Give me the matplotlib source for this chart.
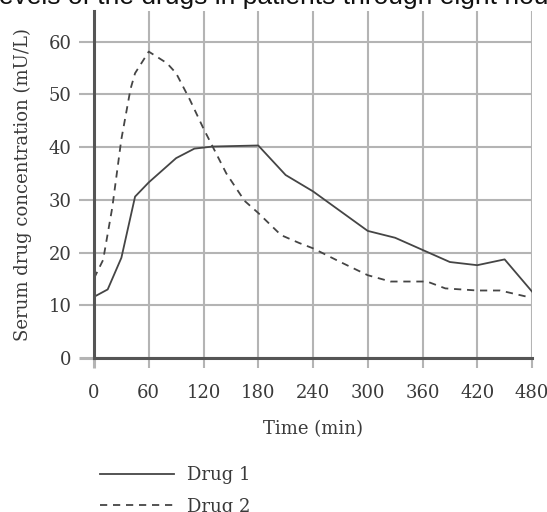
import matplotlib
matplotlib.use("Agg")
import matplotlib.pyplot as plt

# tid i minutter og serumkonsentrasjon (mU/L), lest av bildet
time_drug1 = [0, 15, 30, 45, 60, 90, 110, 130, 180, 210, 240, 300, 330, 390, 420, 450, 480]
conc_drug1 = [11.6, 13.0, 19.0, 30.6, 33.3, 37.9, 39.7, 40.1, 40.3, 34.7, 31.6, 24.1, 22.8, 18.2, 17.6, 18.7, 12.6]

time_drug2 = [0, 10, 20, 30, 40, 45, 60, 80, 90, 105, 120, 145, 165, 180, 205, 225, 240, 270, 300, 325, 365, 385, 420, 445, 475]
conc_drug2 = [15.1, 18.6, 28.5, 41.5, 51.0, 54.0, 58.1, 55.9, 54.0, 49.0, 43.5, 35.0, 29.8, 27.5, 23.3, 21.8, 20.8, 18.2, 15.7, 14.5, 14.5, 13.2, 12.8, 12.8, 11.6]

x_ticks = [0, 60, 120, 180, 240, 300, 360, 420, 480]
y_ticks = [0, 10, 20, 30, 40, 50, 60]

title = "levels of the drugs in patients through eight hours"
x_label = "Time (min)"
y_label = "Serum drug concentration (mU/L)"
labels = ["Drug 1", "Drug 2"]

line_color = "#454545"
grid_color = "#b4b4b4"
text_color = "#3a3a3a"
serif = "DejaVu Serif"
fs = 13

fig = plt.figure(figsize=(5.47, 5.12), dpi=100)
ax = fig.add_axes([94 / 547, 1 - 358 / 512, (532 - 94) / 547, (358 - 11) / 512])

l1, = ax.plot(time_drug1, conc_drug1, color=line_color, lw=1.3, label=labels[0])
l2, = ax.plot(time_drug2, conc_drug2, color=line_color, lw=1.3, linestyle=(0, (4, 3.2)), label=labels[1])

ax.set_xlim(0, 480)
ax.set_ylim(0, 65.8)
ax.set_xticks(x_ticks)
ax.set_yticks(y_ticks)
ax.grid(True, color=grid_color, lw=1.5)
ax.set_axisbelow(True)

for side in ["top", "right"]:
    ax.spines[side].set_visible(False)
for side in ["left", "bottom"]:
    ax.spines[side].set_color("#555555")
    ax.spines[side].set_linewidth(2.2)

ax.tick_params(axis="x", length=7, width=1.5, color=grid_color, pad=12)
ax.tick_params(axis="y", length=11, width=1.5, color=grid_color, pad=5)
# tick ved 0 er mørkere (aksen går litt forbi)
ax.xaxis.get_major_ticks()[0].tick1line.set_color("#555555")
ax.xaxis.get_major_ticks()[0].tick1line.set_markeredgewidth(2.2)
ax.yaxis.get_major_ticks()[0].tick1line.set_color("#555555")
ax.yaxis.get_major_ticks()[0].tick1line.set_markeredgewidth(2.2)

for lab in ax.get_xticklabels() + ax.get_yticklabels():
    lab.set_fontfamily(serif)
    lab.set_fontsize(fs)
    lab.set_color(text_color)

ax.set_xlabel(x_label, fontfamily=serif, fontsize=fs, color=text_color, labelpad=13)
ax.set_ylabel(y_label, fontfamily=serif, fontsize=fs, color=text_color, labelpad=12)

fig.text(-0.012, 0.992, title, fontfamily="Liberation Sans", fontsize=19, color="#111111",
         ha="left", va="baseline")

fig.legend(handles=[l1, l2], loc="upper left", bbox_to_anchor=(84 / 547, 1 - 450 / 512),
           frameon=False, prop={"family": serif, "size": fs}, handlelength=4.1,
           handletextpad=0.7, labelspacing=0.75, labelcolor=text_color)

fig.savefig("out.png", dpi=100)
